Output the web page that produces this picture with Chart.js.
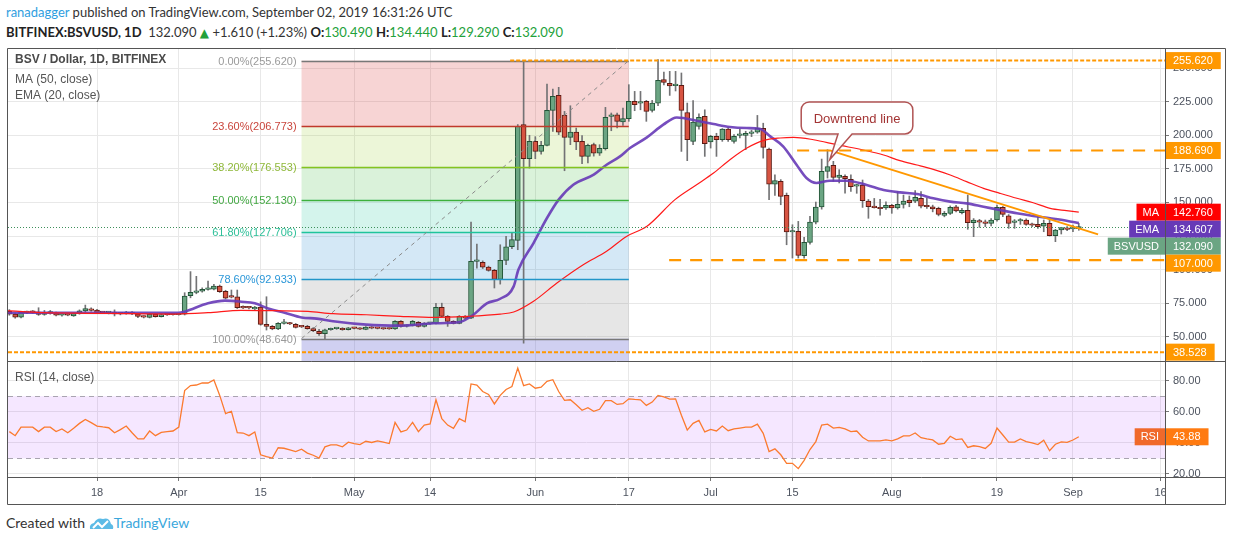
<!DOCTYPE html>
<html>
<head>
<meta charset="utf-8">
<title>BSV / Dollar, 1D, BITFINEX</title>
<script src="https://cdn.jsdelivr.net/npm/chart.js@4.4.1/dist/chart.umd.min.js"></script>
<style>
  html, body { margin: 0; padding: 0; background: #fff; }
  body { width: 1234px; height: 540px; position: relative; overflow: hidden;
         font-family: Lato, "Liberation Sans", Arial, sans-serif; color: #333; }
  .line { position: absolute; left: 6px; white-space: nowrap; font-size: 13px; }
  #head1 { top: 4px; }
  #head2 { top: 24px; }
  #head1 .user { color: #2f9ee0; }
  #head2 b { color: #222; }
  #head2 .g { color: #22a13a; }
  #head2 .tri { color: #22a13a; font-family: "DejaVu Sans", sans-serif; font-size: 12px; }
  #foot { top: 514px; font-size: 14px; }
  #foot .tv { color: #3aa7dc; }
  #foot svg { vertical-align: -2px; }
  canvas { position: absolute; left: 0; }
  #priceChart { top: 0; }
  #rsiChart { top: 362px; }
</style>
</head>
<body>
<div id="head1" class="line"><span class="user">ranadagger</span> published on TradingView.com, September 02, 2019 16:31:26 UTC</div>
<div id="head2" class="line"><b>BITFINEX:BSVUSD, 1D</b>&nbsp; 132.090 <span class="tri">&#9650;</span> +1.610 (+1.23%) <b>O:</b><span class="g">130.490</span> <b>H:</b><span class="g">134.440</span> <b>L:</b><span class="g">129.290</span> <b>C:</b><span class="g">132.090</span></div>
<canvas id="priceChart" width="1234" height="362"></canvas>
<canvas id="rsiChart" width="1234" height="143"></canvas>
<div id="foot" class="line">Created with <svg width="25" height="14" viewBox="0 0 25 14"><path d="M1 13 Q0 8 5 7 Q8 1 14 3 Q20 1 22 8 Q25 9 24 13 Z" fill="#5cbbe6"/><polyline points="4,12 9,7 13,11 19,5" stroke="#fff" fill="none" stroke-width="2"/></svg><span class="tv">TradingView</span></div>

<script>
var FONT = '"Liberation Sans", Arial, sans-serif';
Chart.defaults.font.family = FONT;
Chart.defaults.font.size = 11;
Chart.defaults.color = '#4c525e';

// day numbers count from 1 March 2019 (= 0); first candle is 3 March
var firstDay = 2;

var opens = [
  69.0, 66.9, 64.6, 68.0, 68.6, 68.4, 66.6, 67.6, 67.8, 66.0,
  66.6, 65.6, 67.3, 69.2, 70.6, 69.8, 68.2, 68.0, 68.3, 67.0,
  67.2, 68.3, 67.0, 65.0, 64.4, 66.8, 65.0, 66.5, 66.4, 66.5,
  66.8, 80.5, 83.0, 84.0, 85.3, 85.4, 87.8, 83.8, 79.8, 79.8,
  72.0, 71.6, 70.7, 72.0, 59.2, 57.7, 55.8, 60.0, 60.1, 59.3,
  57.5, 57.7, 56.0, 54.0, 52.3, 55.2, 56.0, 56.2, 55.3, 56.6,
  56.4, 55.5, 57.0, 56.3, 56.2, 56.1, 55.8, 61.5, 57.8, 58.5,
  60.7, 57.7, 60.0, 60.0, 71.9, 65.2, 61.5, 60.0, 65.2, 63.9,
  106.1, 105.4, 101.9, 99.4, 92.7, 106.9, 117.0, 121.8, 207.9, 182.6,
  195.5, 188.0, 192.5, 218.6, 229.7, 215.0, 198.5, 202.4, 195.5, 184.3,
  193.0, 186.6, 190.0, 214.1, 215.3, 210.0, 212.4, 225.3, 224.0, 225.3,
  218.6, 224.0, 241.4, 238.7, 237.0, 237.2, 217.0, 195.5, 206.7, 214.1,
  195.0, 199.2, 196.7, 204.7, 195.5, 200.0, 200.0, 201.4, 202.4, 205.2,
  189.8, 163.7, 165.7, 155.3, 128.0, 128.5, 110.3, 120.3, 135.4, 146.6,
  173.1, 177.6, 168.7, 169.4, 167.2, 162.2, 163.0, 151.0, 146.8, 146.2,
  146.0, 147.8, 146.0, 148.6, 151.8, 151.0, 153.0, 147.3, 146.8, 145.6,
  140.4, 141.9, 146.8, 142.4, 144.1, 134.9, 136.2, 135.4, 134.4, 136.9,
  146.3, 140.1, 135.2, 136.2, 136.9, 133.7, 133.7, 132.4, 134.4, 125.3,
  129.5, 131.0, 130.2, 130.49
];
var highs = [
  70.2, 67.5, 68.8, 69.2, 69.5, 71.6, 69.6, 69.6, 68.3, 67.0,
  67.2, 67.8, 70.0, 73.6, 71.6, 70.4, 69.0, 68.9, 70.0, 68.0,
  68.9, 68.8, 67.4, 65.5, 67.4, 67.2, 66.9, 67.0, 67.1, 67.3,
  82.8, 98.5, 95.0, 86.4, 91.5, 89.0, 88.5, 84.6, 84.8, 84.8,
  73.0, 72.4, 72.6, 76.0, 79.8, 58.4, 60.5, 63.0, 60.8, 59.9,
  58.2, 58.5, 56.8, 55.6, 55.8, 56.5, 56.8, 56.8, 57.0, 57.0,
  56.9, 57.6, 57.6, 56.9, 56.5, 56.4, 62.0, 62.0, 59.0, 62.2,
  61.4, 60.6, 60.8, 74.9, 75.0, 65.8, 62.0, 65.8, 65.8, 135.4,
  119.0, 106.5, 102.6, 100.2, 118.5, 124.7, 127.7, 208.0, 254.6, 200.0,
  199.0, 195.5, 238.2, 234.5, 235.7, 217.8, 222.0, 205.4, 199.7, 193.5,
  194.2, 193.0, 220.8, 216.6, 216.6, 220.3, 237.7, 232.7, 232.7, 226.0,
  226.0, 256.3, 247.1, 247.6, 247.6, 246.4, 224.0, 225.8, 216.0, 219.0,
  200.0, 201.5, 205.0, 205.5, 200.5, 204.7, 203.0, 203.8, 214.8, 209.0,
  190.5, 170.6, 167.0, 157.0, 133.4, 135.9, 124.0, 139.6, 150.3, 182.3,
  189.3, 180.6, 174.4, 170.6, 170.6, 163.5, 166.7, 152.2, 153.0, 152.3,
  150.5, 148.6, 158.0, 155.5, 154.8, 158.8, 158.0, 153.0, 148.0, 146.5,
  143.3, 147.4, 147.8, 145.6, 155.5, 138.0, 137.4, 136.9, 137.9, 148.1,
  147.0, 141.0, 137.3, 138.0, 137.8, 134.6, 139.4, 136.9, 136.9, 130.0,
  131.5, 132.0, 133.2, 134.44
];
var lows = [
  66.0, 63.8, 64.0, 67.2, 67.5, 65.9, 66.0, 66.8, 65.5, 65.4,
  65.6, 65.2, 66.8, 68.6, 69.0, 67.6, 67.3, 67.0, 65.5, 66.3,
  66.8, 66.5, 64.3, 64.0, 64.0, 64.6, 64.7, 65.9, 66.0, 66.1,
  66.2, 79.0, 82.0, 83.2, 84.6, 84.8, 83.0, 78.2, 78.9, 71.0,
  71.0, 70.8, 70.2, 58.6, 55.0, 55.2, 55.2, 59.4, 59.0, 56.5,
  56.8, 55.6, 53.8, 51.0, 48.6, 54.8, 55.5, 54.8, 55.0, 55.9,
  55.2, 55.2, 55.9, 55.8, 55.4, 55.5, 55.5, 57.2, 57.2, 58.0,
  57.2, 57.2, 59.2, 59.5, 64.8, 57.7, 59.5, 59.6, 63.5, 63.5,
  101.0, 100.8, 98.8, 86.3, 89.2, 103.6, 115.6, 114.8, 45.3, 175.6,
  182.6, 186.0, 192.0, 202.9, 200.5, 173.6, 193.0, 189.3, 178.9, 179.4,
  184.5, 185.0, 189.0, 203.4, 205.4, 207.4, 210.4, 218.3, 219.0, 210.4,
  217.3, 222.0, 237.5, 229.7, 233.0, 188.0, 181.1, 193.0, 204.5, 184.3,
  190.5, 184.3, 195.5, 195.5, 194.2, 198.0, 189.3, 199.0, 201.5, 183.0,
  152.0, 155.3, 148.3, 118.5, 108.6, 108.6, 108.6, 119.0, 134.0, 145.0,
  168.2, 165.7, 164.5, 157.0, 158.3, 156.8, 146.3, 138.2, 145.8, 140.6,
  144.8, 141.9, 145.0, 145.8, 146.8, 149.8, 146.0, 145.6, 143.0, 140.0,
  139.3, 141.0, 143.0, 141.5, 130.0, 124.5, 131.5, 132.0, 132.5, 136.0,
  139.4, 130.7, 130.7, 133.7, 133.0, 132.0, 130.7, 128.2, 125.0, 120.8,
  126.5, 129.0, 128.2, 129.29
];
var closes = [
  66.9, 64.6, 68.3, 68.6, 68.2, 66.6, 67.7, 67.9, 66.0, 66.3,
  66.0, 67.3, 69.3, 71.0, 69.6, 68.2, 68.0, 68.3, 67.0, 67.3,
  68.4, 67.0, 65.2, 64.6, 66.8, 65.0, 66.5, 66.3, 66.6, 66.8,
  80.3, 83.0, 84.0, 85.3, 85.9, 87.8, 83.5, 78.8, 79.5, 71.6,
  71.5, 71.5, 72.0, 59.2, 57.6, 55.8, 60.0, 60.2, 59.5, 57.0,
  57.3, 56.0, 54.5, 52.3, 55.2, 56.0, 56.2, 55.2, 56.6, 56.2,
  55.6, 57.2, 56.3, 56.2, 55.8, 55.8, 61.5, 57.7, 58.5, 61.5,
  57.7, 60.0, 60.3, 71.9, 65.2, 61.5, 60.0, 65.2, 63.9, 106.1,
  106.4, 101.9, 99.4, 92.7, 106.9, 117.0, 122.3, 206.6, 182.6, 195.5,
  188.0, 192.5, 218.6, 229.0, 202.4, 198.5, 202.4, 195.0, 184.3, 192.5,
  186.6, 190.3, 213.3, 215.3, 210.4, 212.4, 225.3, 222.8, 224.5, 217.8,
  224.0, 240.9, 239.4, 236.7, 237.2, 218.6, 196.7, 209.9, 213.3, 193.8,
  199.2, 196.7, 204.7, 196.7, 199.2, 200.2, 201.4, 202.4, 205.2, 191.0,
  163.7, 166.2, 154.5, 128.0, 128.5, 110.6, 120.3, 135.4, 146.6, 173.1,
  176.8, 168.7, 170.4, 167.7, 161.7, 162.6, 151.3, 146.8, 146.1, 145.3,
  147.8, 146.0, 148.6, 151.0, 149.8, 153.8, 147.3, 146.8, 145.1, 141.1,
  141.9, 146.3, 143.6, 144.1, 134.9, 136.9, 135.4, 134.4, 136.9, 146.3,
  141.1, 134.4, 136.1, 136.9, 133.7, 133.0, 131.9, 134.4, 125.3, 129.5,
  131.2, 130.0, 130.5, 132.09
];

// MA (50) and EMA (20) at these days
var maDays = [1.8, 7.5, 18.9, 30.3, 36, 41.7, 47.4, 53.1, 57.4, 63.1, 68.9, 74.6, 80.3, 86, 88.3,
  91.7, 95.7, 100.2, 104.2, 107.6, 111.1, 115.9, 119.6, 122.5, 125.3, 128.2, 131, 133.9, 136.2,
  139.6, 143.6, 148.7, 151.6, 154.4, 157.3, 160.1, 163, 165.8, 168.7, 171.5, 174.4, 177.2,
  180.1, 182.9, 185];
var maValues = [69.4, 67.9, 67.4, 66.9, 67.9, 69.7, 69.4, 68.9, 67.2, 66.4, 65.2, 64.4, 65.2, 66.9, 68.4,
  76.4, 90.0, 103.6, 113.6, 124.7, 132.2, 152.1, 163.2, 171.9, 181.8, 190.5, 196.0, 198.0, 198.5,
  196.7, 193.0, 188.5, 185.3, 181.1, 177.9, 174.6, 170.4, 165.5, 160.5, 156.8, 153.1, 149.8,
  145.6, 143.9, 142.76];
var emaDays = [1.8, 30.9, 32, 36, 38.9, 41.7, 44, 46.3, 49.1, 52, 54.6, 57.4, 63.1, 68.9, 74.6, 79.1,
  81.4, 83.7, 86, 88.3, 89.1, 91.7, 94, 96, 98.5, 102, 104.2, 106.5, 108.2, 111.1, 113.9, 116.2,
  117.3, 119.6, 122.5, 125.3, 128.2, 130.4, 132.2, 134.4, 136.7, 138.4, 140.1, 142.4, 145.3,
  148.7, 151.6, 154.4, 157.3, 160.1, 163, 165.8, 168.7, 171.5, 174.4, 177.2, 180.1, 182.9, 185];
var emaValues = [67.9, 67.8, 68.7, 74.9, 76.9, 76.1, 74.9, 71.1, 67.9, 64.4, 63.5, 61.5, 59.0, 58.3, 60.0, 61.0,
  66.4, 74.9, 78.3, 87.5, 99.9, 119.8, 138.4, 152.1, 163.2, 170.7, 178.1, 184.3, 190.5, 198.5, 207.9, 213.3,
  212.9, 210.9, 208.4, 206.2, 205.4, 204.9, 199.2, 191.8, 178.1, 168.2, 164.5, 166.2, 166.2,
  163.0, 159.3, 157.5, 156.3, 153.1, 150.6, 149.3, 146.8, 144.4, 141.9, 139.9, 138.2, 136.4, 134.607];

// RSI (14), one value per candle
var rsiValues = [
  47.2, 44.6, 50.1, 50.1, 50.1, 47.2, 50.1, 50.1, 47.2, 48.9,
  46.5, 49.3, 52.5, 55.0, 53.0, 50.8, 50.2, 49.7, 46.5, 48.5,
  50.8, 46.5, 42.5, 42.5, 47.6, 44.6, 46.7, 47.2, 47.6, 50.1,
  73.6, 76.8, 77.2, 78.5, 78.5, 80.4, 70.5, 58.8, 60.3, 46.5,
  46.3, 44.6, 47.0, 32.3, 31.1, 30.2, 36.8, 36.5, 35.5, 34.4,
  35.9, 33.4, 32.0, 30.2, 37.4, 38.7, 38.7, 37.4, 40.4, 39.5,
  38.9, 41.0, 40.2, 41.2, 40.4, 39.5, 53.1, 47.0, 48.2, 53.1,
  47.2, 51.4, 52.2, 67.7, 55.6, 51.4, 49.3, 55.6, 53.5, 77.9,
  77.2, 73.0, 71.1, 65.0, 70.5, 74.3, 76.2, 88.1, 76.8, 77.9,
  75.1, 75.8, 79.6, 80.6, 73.0, 67.3, 67.7, 64.5, 60.9, 62.6,
  60.3, 61.6, 67.1, 67.1, 64.7, 65.2, 68.3, 67.9, 67.7, 64.1,
  66.2, 70.5, 69.6, 68.1, 68.3, 57.8, 48.2, 52.5, 54.4, 47.0,
  48.6, 47.6, 50.8, 47.8, 48.9, 49.5, 50.1, 50.1, 52.0, 46.1,
  34.4, 36.1, 32.3, 26.8, 26.8, 23.4, 28.7, 35.7, 40.8, 51.4,
  52.0, 49.5, 49.9, 48.9, 47.2, 47.6, 43.6, 41.2, 41.2, 41.2,
  41.9, 41.2, 42.5, 44.4, 44.4, 46.3, 43.3, 42.5, 41.9, 39.1,
  39.7, 44.2, 42.1, 42.5, 37.0, 38.1, 37.6, 36.4, 39.7, 49.5,
  45.0, 40.4, 40.4, 42.5, 40.8, 40.0, 38.9, 41.7, 34.9, 39.1,
  40.6, 40.3, 41.8, 43.88
];

var tickDays = [17, 31, 45, 61, 74, 92, 108, 122, 136, 153, 171, 184, 199];
var tickLabels = ['18', 'Apr', '15', 'May', '14', 'Jun', '17', 'Jul', '15', 'Aug', '19', 'Sep', '16'];

var fibRatios = ['0.00%', '23.60%', '38.20%', '50.00%', '61.80%', '78.60%', '100.00%'];
var fibPrices = [255.620, 206.773, 176.553, 152.130, 127.706, 92.933, 48.640];
var fibFromDay = 52, fibToDay = 108;

var levelPrices = [255.620, 188.690, 107.000, 38.528];
var levelFromDays = [87.7, 136.8, 114.9, 0];

var trendDays = [142.4, 188.3];
var trendPrices = [188.8, 126.2];

var lastClose = 132.09, lastMA = 142.76, lastEMA = 134.607, lastRSI = 43.88;
var rsiHigh = 70, rsiLow = 30;

// ---- styles ----
var zoneColors = ['rgba(220,60,60,0.22)', 'rgba(160,210,60,0.20)', 'rgba(70,190,70,0.20)',
  'rgba(40,200,160,0.20)', 'rgba(40,140,210,0.20)', 'rgba(128,128,128,0.20)', 'rgba(100,100,210,0.30)'];
var fibLineColors = ['#787878', '#c0392b', '#84c41f', '#3db03d', '#1fc49c', '#2196c9', '#787878'];
var fibTextColors = ['#9a9a9a', '#c9453c', '#8fb83a', '#43a843', '#2dbf98', '#2b97d8', '#9a9a9a'];
var ORANGE = '#ff9800';
var GRID = '#e8e8e8';
var FRAME = '#555';

var days = opens.map(function (v, i) { return firstDay + i; });
var xMin = 1.77, xMax = 199.75;

function isUp(i) { return closes[i] >= opens[i]; }

function tagPair(ctx, area, y, name, value, nameBg, valueBg) {
  ctx.font = '11px ' + FONT;
  ctx.textBaseline = 'middle';
  var w = ctx.measureText(value).width + 16;
  ctx.fillStyle = valueBg;
  ctx.fillRect(area.right, y - 8.5, w, 17);
  ctx.fillStyle = '#fff';
  ctx.textAlign = 'left';
  ctx.fillText(value, area.right + 8, y + 0.5);
  if (name) {
    var nw = ctx.measureText(name).width + 12;
    ctx.fillStyle = nameBg;
    ctx.fillRect(area.right - nw, y - 8.5, nw, 17);
    ctx.fillStyle = '#fff';
    ctx.textAlign = 'center';
    ctx.fillText(name, area.right - nw / 2, y + 0.5);
  }
}

function hLine(ctx, x0, x1, y, color, width, dash) {
  ctx.save();
  ctx.strokeStyle = color;
  ctx.lineWidth = width;
  ctx.setLineDash(dash || []);
  ctx.beginPath();
  ctx.moveTo(x0, y);
  ctx.lineTo(x1, y);
  ctx.stroke();
  ctx.restore();
}

var priceDrawings = {
  id: 'priceDrawings',
  beforeDatasetsDraw: function (chart) {
    var ctx = chart.ctx, a = chart.chartArea, x = chart.scales.x, y = chart.scales.y;
    var x0 = x.getPixelForValue(fibFromDay), x1 = x.getPixelForValue(fibToDay);
    ctx.save();
    ctx.beginPath();
    ctx.rect(a.left, a.top, a.width, a.height);
    ctx.clip();
    for (var i = 0; i < fibPrices.length; i++) {
      var yt = y.getPixelForValue(fibPrices[i]);
      var yb = i + 1 < fibPrices.length ? y.getPixelForValue(fibPrices[i + 1]) : a.bottom;
      ctx.fillStyle = zoneColors[i];
      ctx.fillRect(x0, yt, x1 - x0, yb - yt);
    }
    ctx.restore();
  },
  afterDatasetsDraw: function (chart) {
    var ctx = chart.ctx, a = chart.chartArea, x = chart.scales.x, y = chart.scales.y;
    var x0 = x.getPixelForValue(fibFromDay), x1 = x.getPixelForValue(fibToDay);
    ctx.save();
    ctx.beginPath();
    ctx.rect(a.left, a.top, a.width, a.height);
    ctx.clip();

    // fib level lines and labels
    ctx.font = '11px ' + FONT;
    ctx.textAlign = 'right';
    ctx.textBaseline = 'middle';
    for (var i = 0; i < fibPrices.length; i++) {
      var yy = Math.round(y.getPixelForValue(fibPrices[i])) + 0.5;
      hLine(ctx, x0, x1, yy, fibLineColors[i], 1.3);
      ctx.fillStyle = fibTextColors[i];
      ctx.fillText(fibRatios[i] + '(' + fibPrices[i].toFixed(3) + ')', x0 - 5, yy);
    }
    // diagonal of the fib tool
    ctx.save();
    ctx.strokeStyle = '#8a8a8a';
    ctx.lineWidth = 1;
    ctx.setLineDash([4, 4]);
    ctx.beginPath();
    ctx.moveTo(x0, y.getPixelForValue(fibPrices[fibPrices.length - 1]));
    ctx.lineTo(x1, y.getPixelForValue(fibPrices[0]));
    ctx.stroke();
    ctx.restore();

    // last price dotted line
    hLine(ctx, a.left, a.right, Math.round(y.getPixelForValue(lastClose)) + 0.5, '#3d8f5a', 1, [1, 2]);

    // horizontal support / resistance
    for (var j = 0; j < levelPrices.length; j++) {
      var ly = y.getPixelForValue(levelPrices[j]);
      var dotted = j === 0 || j === levelPrices.length - 1;
      hLine(ctx, Math.max(a.left, x.getPixelForValue(levelFromDays[j])), a.right, ly, ORANGE,
            dotted ? 2 : 2.2, dotted ? [4, 2] : [12, 9]);
    }

    // downtrend line
    ctx.strokeStyle = ORANGE;
    ctx.lineWidth = 2;
    ctx.setLineDash([]);
    ctx.beginPath();
    ctx.moveTo(x.getPixelForValue(trendDays[0]), y.getPixelForValue(trendPrices[0]));
    ctx.lineTo(x.getPixelForValue(trendDays[1]), y.getPixelForValue(trendPrices[1]));
    ctx.stroke();

    // callout
    var bl = x.getPixelForValue(137.5), br = x.getPixelForValue(156.6);
    var bt = y.getPixelForValue(224.8), bb = y.getPixelForValue(201.0);
    var tl = x.getPixelForValue(143.8), tr = x.getPixelForValue(146.2);
    var tipX = x.getPixelForValue(142.4), tipY = y.getPixelForValue(182.0);
    var r = 8;
    ctx.beginPath();
    ctx.moveTo(bl + r, bt);
    ctx.lineTo(br - r, bt);
    ctx.arcTo(br, bt, br, bt + r, r);
    ctx.lineTo(br, bb - r);
    ctx.arcTo(br, bb, br - r, bb, r);
    ctx.lineTo(tr, bb);
    ctx.lineTo(tipX, tipY);
    ctx.lineTo(tl, bb);
    ctx.lineTo(bl + r, bb);
    ctx.arcTo(bl, bb, bl, bb - r, r);
    ctx.lineTo(bl, bt + r);
    ctx.arcTo(bl, bt, bl + r, bt, r);
    ctx.closePath();
    ctx.fillStyle = 'rgba(255,255,255,0.95)';
    ctx.fill();
    ctx.strokeStyle = '#b05353';
    ctx.lineWidth = 1.5;
    ctx.stroke();
    ctx.font = '13px ' + FONT;
    ctx.fillStyle = '#a33434';
    ctx.textAlign = 'center';
    ctx.fillText('Downtrend line', (bl + br) / 2, (bt + bb) / 2 + 1);
    ctx.restore();
  },
  afterDraw: function (chart) {
    var ctx = chart.ctx, a = chart.chartArea, y = chart.scales.y;
    ctx.save();
    // legend
    ctx.textAlign = 'left';
    ctx.textBaseline = 'middle';
    ctx.fillStyle = '#4a4a4a';
    ctx.font = 'bold 12px ' + FONT;
    ctx.fillText('BSV / Dollar, 1D, BITFINEX', a.left + 7, a.top + 12);
    ctx.font = '12px ' + FONT;
    ctx.fillStyle = '#555';
    ctx.fillText('MA (50, close)', a.left + 7, a.top + 32);
    ctx.fillText('EMA (20, close)', a.left + 7, a.top + 48);

    // axis tags, pushed down so they do not overlap
    var tags = [
      { v: levelPrices[0], name: null, text: levelPrices[0].toFixed(3), bg: ORANGE, nbg: ORANGE },
      { v: levelPrices[1], name: null, text: levelPrices[1].toFixed(3), bg: ORANGE, nbg: ORANGE },
      { v: lastMA, name: 'MA', text: lastMA.toFixed(3), bg: '#ff0000', nbg: '#ff0000' },
      { v: lastEMA, name: 'EMA', text: lastEMA.toFixed(3), bg: '#673ab7', nbg: '#673ab7' },
      { v: lastClose, name: 'BSVUSD', text: lastClose.toFixed(3), bg: '#6ba583', nbg: '#6ba583' },
      { v: levelPrices[2], name: null, text: levelPrices[2].toFixed(3), bg: ORANGE, nbg: ORANGE },
      { v: levelPrices[3], name: null, text: levelPrices[3].toFixed(3), bg: ORANGE, nbg: ORANGE }
    ];
    var prev = -100;
    tags.forEach(function (t) {
      var ty = Math.max(y.getPixelForValue(t.v), prev + 17);
      prev = ty;
      tagPair(ctx, a, ty, t.name, t.text, t.nbg, t.bg);
    });

    // frame
    var right = a.right + 60;
    ctx.strokeStyle = FRAME;
    ctx.lineWidth = 1;
    ctx.beginPath();
    ctx.moveTo(a.left - 0.5, chart.height);
    ctx.lineTo(a.left - 0.5, a.top + 0.5);
    ctx.lineTo(right + 0.5, a.top + 0.5);
    ctx.lineTo(right + 0.5, chart.height);
    ctx.moveTo(a.right + 0.5, a.top);
    ctx.lineTo(a.right + 0.5, chart.height);
    ctx.moveTo(a.left - 1, chart.height - 0.5);
    ctx.lineTo(right + 1, chart.height - 0.5);
    ctx.stroke();
    ctx.restore();
  }
};

var rsiDrawings = {
  id: 'rsiDrawings',
  beforeDatasetsDraw: function (chart) {
    var ctx = chart.ctx, a = chart.chartArea, y = chart.scales.y;
    var yh = y.getPixelForValue(rsiHigh), yl = y.getPixelForValue(rsiLow);
    ctx.save();
    ctx.fillStyle = 'rgba(153,21,255,0.10)';
    ctx.fillRect(a.left, yh, a.width, yl - yh);
    hLine(ctx, a.left, a.right, Math.round(yh) + 0.5, '#a9a4b0', 1, [5, 4]);
    hLine(ctx, a.left, a.right, Math.round(yl) + 0.5, '#a9a4b0', 1, [5, 4]);
    ctx.restore();
  },
  afterDraw: function (chart) {
    var ctx = chart.ctx, a = chart.chartArea, y = chart.scales.y;
    var right = a.right + 60;
    ctx.save();
    // blank the corner under the price axis
    ctx.fillStyle = '#fff';
    ctx.fillRect(a.right + 1, a.bottom + 1, right - a.right, chart.height - a.bottom);

    ctx.textAlign = 'left';
    ctx.textBaseline = 'middle';
    ctx.font = '12px ' + FONT;
    ctx.fillStyle = '#555';
    ctx.fillText('RSI (14, close)', a.left + 7, a.top + 16);

    tagPair(ctx, a, y.getPixelForValue(lastRSI), 'RSI', lastRSI.toFixed(2), '#f0692a', '#ff7a10');

    ctx.strokeStyle = FRAME;
    ctx.lineWidth = 1;
    ctx.beginPath();
    ctx.moveTo(a.left - 0.5, 0);
    ctx.lineTo(a.left - 0.5, chart.height - 0.5);
    ctx.lineTo(right + 0.5, chart.height - 0.5);
    ctx.lineTo(right + 0.5, 0);
    ctx.moveTo(a.right + 0.5, 0);
    ctx.lineTo(a.right + 0.5, chart.height);
    ctx.moveTo(a.left - 1, a.bottom + 0.5);
    ctx.lineTo(right + 1, a.bottom + 0.5);
    ctx.stroke();
    ctx.restore();
  }
};

function fixedX(showLabels) {
  return {
    type: 'linear',
    min: xMin,
    max: xMax,
    offset: false,
    afterBuildTicks: function (s) { s.ticks = tickDays.map(function (d) { return { value: d }; }); },
    ticks: {
      display: showLabels,
      autoSkip: false,
      maxRotation: 0,
      padding: 5,
      color: '#4c525e',
      callback: function (v, i) { return tickLabels[i]; }
    },
    grid: { color: GRID, offset: false, drawTicks: showLabels, tickLength: 4, tickColor: '#777' },
    border: { display: false },
    afterFit: function (s) {
      s.height = showLabels ? 28 : 0;
      s.paddingLeft = 0; s.paddingRight = 0;
    }
  };
}

new Chart(document.getElementById('priceChart'), {
  type: 'bar',
  data: {
    datasets: [
      {
        type: 'line', label: 'MA (50, close)',
        data: maDays.map(function (d, i) { return { x: d, y: maValues[i] }; }),
        borderColor: '#ff1a1a', borderWidth: 1.2, pointRadius: 0,
        cubicInterpolationMode: 'monotone', order: 0
      },
      {
        type: 'line', label: 'EMA (20, close)',
        data: emaDays.map(function (d, i) { return { x: d, y: emaValues[i] }; }),
        borderColor: 'rgba(103,58,183,0.9)', borderWidth: 2.6, pointRadius: 0,
        cubicInterpolationMode: 'monotone', order: 1
      },
      {
        label: 'body',
        data: days.map(function (d, i) { return { x: d, y: [opens[i], closes[i]] }; }),
        backgroundColor: days.map(function (d, i) { return isUp(i) ? '#6ba583' : '#d75442'; }),
        borderColor: days.map(function (d, i) { return isUp(i) ? '#225437' : '#5b1a13'; }),
        borderWidth: 1, borderSkipped: false, barThickness: 5, minBarLength: 1.5,
        grouped: false, order: 2
      },
      {
        label: 'wick',
        data: days.map(function (d, i) { return { x: d, y: [lows[i], highs[i]] }; }),
        backgroundColor: '#737375', barThickness: 1, grouped: false, order: 3
      }
    ]
  },
  options: {
    responsive: false,
    animation: false,
    devicePixelRatio: 1,
    layout: { padding: { left: 8, right: 9, top: 48, bottom: 0 } },
    plugins: { legend: { display: false }, tooltip: { enabled: false } },
    scales: {
      x: fixedX(false),
      y: {
        type: 'linear',
        position: 'right',
        min: 31.2,
        max: 265,
        afterBuildTicks: function (s) {
          s.ticks = s.ticks.filter(function (t) { return Math.abs(t.value % 25) < 1e-6; });
        },
        ticks: { stepSize: 25, padding: 4, color: '#4c525e',
                 callback: function (v) { return v.toFixed(3); } },
        grid: { color: GRID, drawTicks: true, tickLength: 4, tickColor: '#777' },
        border: { display: false },
        afterFit: function (s) { s.width = 60; s.paddingTop = 0; s.paddingBottom = 0; }
      }
    }
  },
  plugins: [priceDrawings]
});

new Chart(document.getElementById('rsiChart'), {
  type: 'line',
  data: {
    datasets: [{
      label: 'RSI (14, close)',
      data: days.map(function (d, i) { return { x: d, y: rsiValues[i] }; }),
      borderColor: '#fb7a2e', borderWidth: 1.3, pointRadius: 0, tension: 0
    }]
  },
  options: {
    responsive: false,
    animation: false,
    devicePixelRatio: 1,
    layout: { padding: { left: 8, right: 9, top: 0, bottom: 0 } },
    plugins: { legend: { display: false }, tooltip: { enabled: false } },
    scales: {
      x: fixedX(true),
      y: {
        type: 'linear',
        position: 'right',
        min: 18,
        max: 92,
        afterBuildTicks: function (s) {
          s.ticks = [20, 40, 60, 80].map(function (v) { return { value: v }; });
        },
        ticks: { padding: 4, color: '#4c525e', callback: function (v) { return v.toFixed(2); } },
        grid: { color: GRID, drawTicks: true, tickLength: 4, tickColor: '#777' },
        border: { display: false },
        afterFit: function (s) { s.width = 60; s.paddingTop = 0; s.paddingBottom = 0; }
      }
    }
  },
  plugins: [rsiDrawings]
});
</script>
</body>
</html>
